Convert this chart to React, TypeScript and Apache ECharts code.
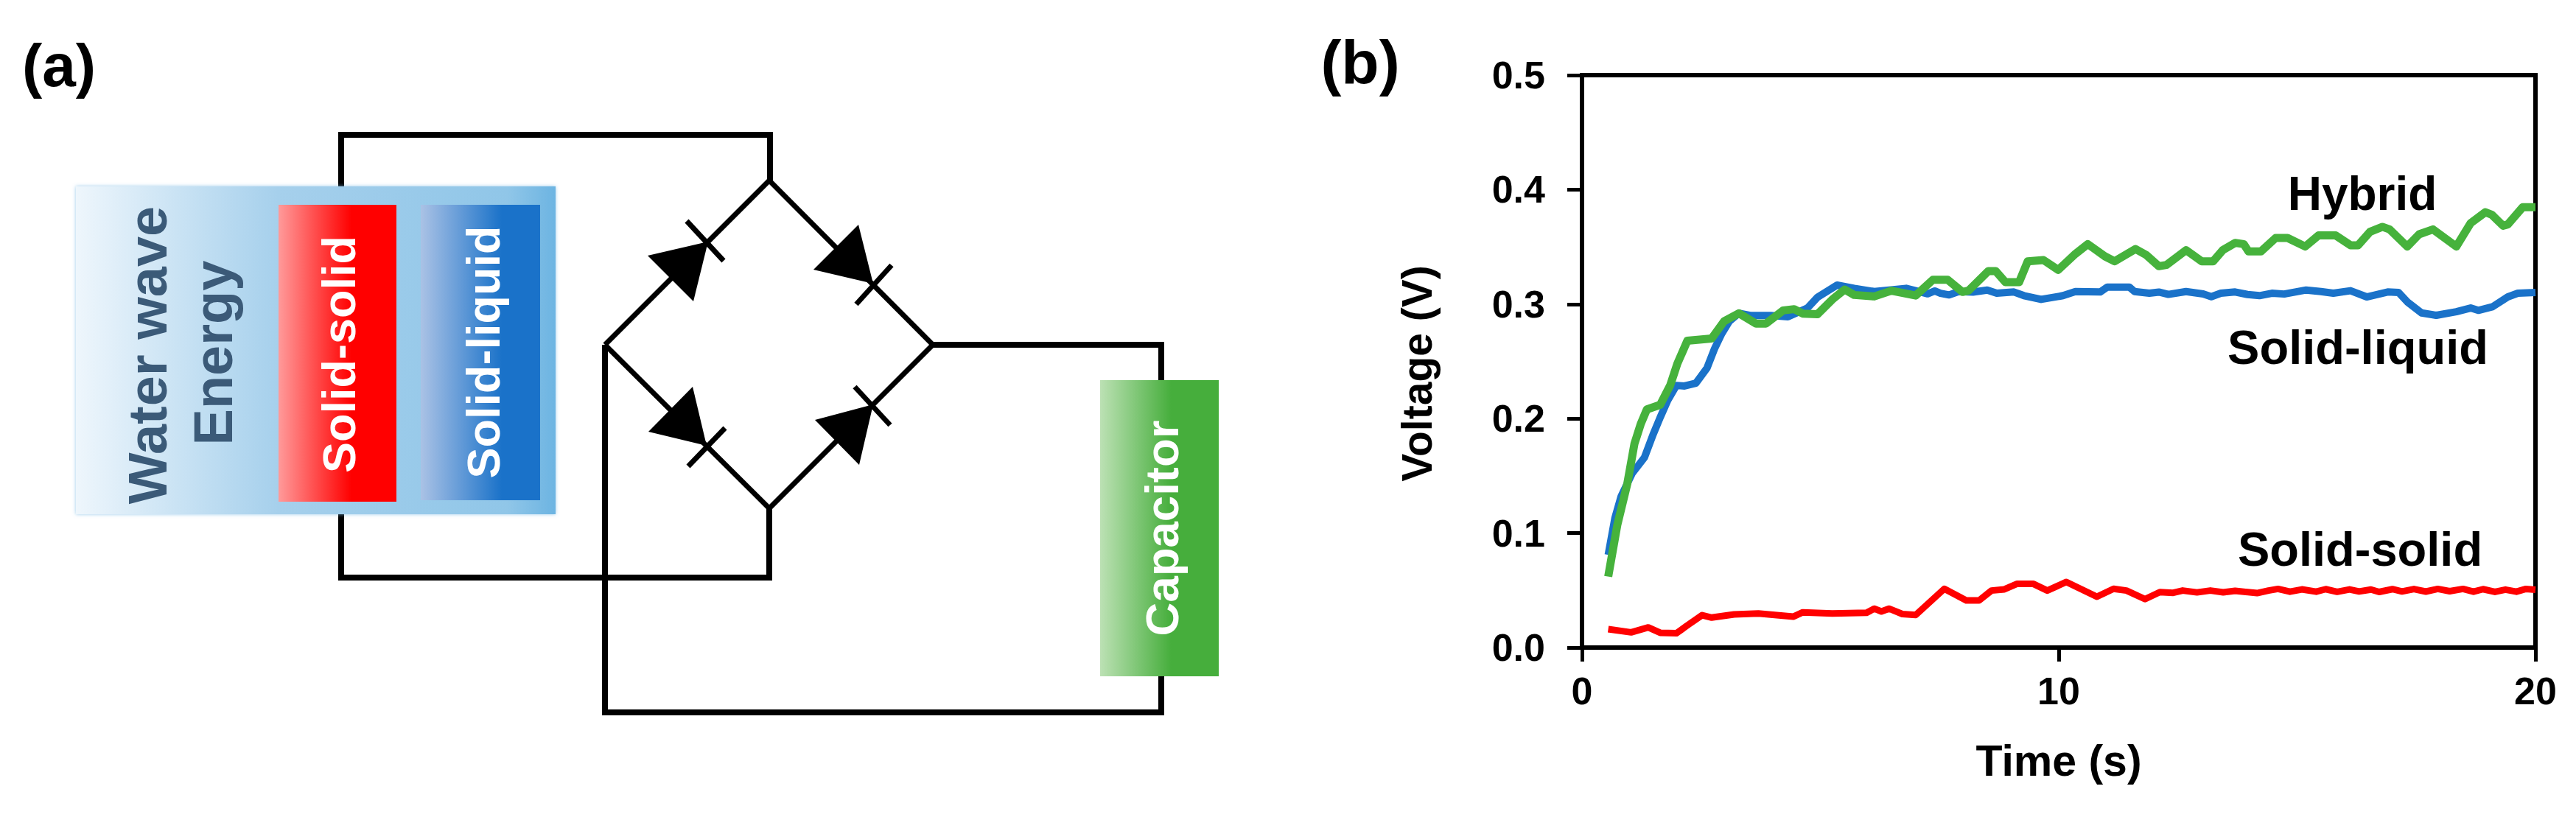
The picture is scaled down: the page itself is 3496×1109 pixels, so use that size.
import React, { useEffect, useRef } from "react";
import * as echarts from "echarts";

const WIDTH = 3496;
const HEIGHT = 1109;
const FONT = '"Liberation Sans", Arial, sans-serif';

const xTicks = [0, 10, 20];
const yTicks = [0, 0.1, 0.2, 0.3, 0.4, 0.5];

const hybrid: [number, number][] = [
  [0.55, 0.062], [0.74, 0.107], [0.95, 0.143], [1.1, 0.178], [1.23, 0.195], [1.36, 0.208], [1.64, 0.212],
  [1.85, 0.229], [2.0, 0.248], [2.21, 0.268], [2.72, 0.27], [2.98, 0.285], [3.29, 0.292], [3.65, 0.283],
  [3.86, 0.283], [4.22, 0.2945], [4.45, 0.2956], [4.63, 0.2917], [4.94, 0.2912], [5.25, 0.304], [5.51, 0.3127],
  [5.71, 0.308], [6.13, 0.3067], [6.49, 0.3117], [7.0, 0.3075], [7.36, 0.3213], [7.67, 0.3213], [7.98, 0.3106],
  [8.11, 0.3118], [8.52, 0.3288], [8.68, 0.3288], [8.88, 0.3192], [9.17, 0.3192], [9.35, 0.3374], [9.68, 0.3385],
  [9.99, 0.3299], [10.35, 0.3439], [10.61, 0.3524], [10.97, 0.3417], [11.17, 0.3374], [11.61, 0.3481],
  [11.84, 0.3428], [12.1, 0.3331], [12.26, 0.3342], [12.67, 0.3471], [13.0, 0.3374], [13.24, 0.3374],
  [13.44, 0.3471], [13.7, 0.3535], [13.88, 0.3524], [13.98, 0.346], [14.24, 0.346], [14.55, 0.3578], [14.8, 0.3578],
  [15.17, 0.3503], [15.45, 0.36], [15.81, 0.36], [16.12, 0.3514], [16.28, 0.3514], [16.53, 0.3632], [16.79, 0.3675],
  [16.94, 0.3653], [17.31, 0.3503], [17.56, 0.361], [17.85, 0.3653], [18.34, 0.3503], [18.64, 0.3707], [18.95, 0.3803],
  [19.08, 0.3782], [19.32, 0.3685], [19.42, 0.3696], [19.73, 0.3846], [20, 0.3846],
];

const solidLiquid: [number, number][] = [
  [0.55, 0.081], [0.69, 0.113], [0.82, 0.132], [1.05, 0.152], [1.31, 0.166], [1.49, 0.186], [1.64, 0.201], [1.8, 0.216],
  [1.98, 0.229], [2.15, 0.2285], [2.39, 0.231], [2.62, 0.244], [2.78, 0.261], [2.93, 0.274], [3.09, 0.285], [3.29, 0.292],
  [3.55, 0.29], [3.96, 0.29], [4.32, 0.289], [4.73, 0.2966], [4.94, 0.306], [5.35, 0.3166], [5.71, 0.3138], [6.13, 0.311],
  [6.8, 0.3138], [7.0, 0.3117], [7.25, 0.309], [7.4, 0.3115], [7.52, 0.3095], [7.7, 0.308], [7.9, 0.311], [8.2, 0.3105],
  [8.5, 0.3123], [8.7, 0.3095], [9.06, 0.3106], [9.27, 0.3074], [9.63, 0.3041], [10.09, 0.3074], [10.35, 0.311],
  [10.87, 0.3106], [11.02, 0.3149], [11.48, 0.3149], [11.59, 0.311], [11.9, 0.3095], [12.1, 0.3105], [12.3, 0.3085],
  [12.67, 0.311], [13.03, 0.3089], [13.2, 0.3065], [13.4, 0.3095], [13.7, 0.3106], [13.96, 0.3084], [14.21, 0.3074],
  [14.47, 0.3095], [14.73, 0.3088], [15.19, 0.3123], [15.5, 0.311], [15.76, 0.3095], [16.12, 0.3117], [16.46, 0.3063],
  [16.9, 0.3106], [17.13, 0.3101], [17.31, 0.302], [17.61, 0.2923], [17.92, 0.2902], [18.34, 0.2934], [18.64, 0.2966],
  [18.8, 0.2945], [19.1, 0.2977], [19.42, 0.3063], [19.63, 0.3095], [20, 0.3101],
];

const solidSolid: [number, number][] = [
  [0.55, 0.0161], [1.03, 0.0133], [1.39, 0.0176], [1.64, 0.0129], [1.98, 0.0125], [2.26, 0.0208], [2.52, 0.0283],
  [2.72, 0.0262], [3.19, 0.029], [3.7, 0.0298], [4.43, 0.027], [4.63, 0.0308], [5.25, 0.0298], [5.97, 0.0304], [6.13, 0.034],
  [6.28, 0.0315], [6.44, 0.034], [6.72, 0.0293], [7.0, 0.0285], [7.6, 0.0513], [8.06, 0.0412], [8.33, 0.0412], [8.59, 0.0498],
  [8.86, 0.0509], [9.12, 0.0556], [9.47, 0.0556], [9.76, 0.0498], [10.16, 0.0573], [10.8, 0.0444], [11.15, 0.0513],
  [11.42, 0.0498], [11.81, 0.0423], [12.12, 0.0484], [12.4, 0.0478], [12.6, 0.0498], [12.9, 0.0482], [13.18, 0.0498],
  [13.45, 0.0483], [13.7, 0.0496], [14.16, 0.0476], [14.4, 0.0498], [14.6, 0.0512], [14.85, 0.0488], [15.1, 0.0508],
  [15.4, 0.0488], [15.6, 0.051], [15.84, 0.0487], [16.1, 0.0508], [16.3, 0.049], [16.55, 0.0507], [16.72, 0.0486],
  [17.0, 0.051], [17.2, 0.049], [17.45, 0.0511], [17.7, 0.0489], [17.95, 0.0512], [18.2, 0.0492], [18.48, 0.0512],
  [18.7, 0.0488], [18.9, 0.051], [19.15, 0.0486], [19.37, 0.0506], [19.6, 0.0488], [19.8, 0.0512], [20, 0.0505],
];

function hGrad(stops: [number, string][]) {
  return new echarts.graphic.LinearGradient(0, 0, 1, 0, stops.map(([offset, color]) => ({ offset, color })));
}

function text(label: string, cx: number, baseline: number, size: number, fill: string, rot = false) {
  const off = size * 0.35;
  return {
    type: "text",
    x: rot ? baseline - off : cx,
    y: rot ? cx : baseline - off,
    rotation: rot ? Math.PI / 2 : 0,
    z: 20,
    style: { text: label, fill, font: `bold ${size}px ${FONT}`, align: "center", verticalAlign: "middle" },
  };
}

function wire(points: number[][], lineWidth = 8) {
  return {
    type: "polyline",
    z: 5,
    shape: { points },
    style: { stroke: "#000", lineWidth, fill: "none", lineJoin: "miter" },
  };
}

function diode(tri: number[][], bar: number[][]) {
  return [
    { type: "polygon", z: 6, shape: { points: tri }, style: { fill: "#000" } },
    wire(bar, 7),
  ];
}

function block(x: number, y: number, width: number, height: number, stops: [number, string][]) {
  return { type: "rect", z: 10, shape: { x, y, width, height }, style: { fill: hGrad(stops) } };
}

function diagram() {
  const WATER = "#3b5a78";
  return [
    wire([[463, 254], [463, 183], [1045, 183], [1045, 245]]),
    wire([[463, 696], [463, 784], [1044, 784], [1044, 690]]),
    wire([[821, 468], [1044, 245], [1266, 468], [1044, 690], [821, 468]], 7),
    wire([[821, 468], [821, 967], [1576, 967], [1576, 900]]),
    wire([[1266, 468], [1576, 468], [1576, 530]]),
    ...diode([[961, 328], [879, 347], [941, 409]], [[932, 300], [982, 354]]),
    ...diode([[1185, 385], [1165, 305], [1104, 366]], [[1210, 360], [1162, 413]]),
    ...diode([[959, 605], [940, 525], [880, 586]], [[984, 581], [934, 633]]),
    ...diode([[1185, 549], [1106, 570], [1166, 631]], [[1160, 525], [1208, 577]]),
    {
      type: "rect",
      z: 8,
      shape: { x: 103, y: 253, width: 651, height: 445 },
      style: {
        fill: hGrad([[0, "#eef6fc"], [0.42, "#a6d0ec"], [0.9, "#90c6e8"], [1, "#6cb4e2"]]),
        shadowBlur: 5,
        shadowColor: "rgba(130,190,230,0.8)",
      },
    },
    block(378, 278, 160, 403, [[0, "#ff9a9a"], [0.62, "#ff0000"], [1, "#ff0000"]]),
    block(571, 278, 162, 401, [[0, "#aac2e5"], [0.68, "#1a72c9"], [1, "#1a72c9"]]),
    block(1493, 516, 161, 402, [[0, "#bce1b4"], [0.6, "#46ae3c"], [1, "#46ae3c"]]),
    text("Water wave", 482, 226, 74, WATER, true),
    text("Energy", 479, 315, 74, WATER, true),
    text("Solid-solid", 481, 482, 63, "#fff", true),
    text("Solid-liquid", 478, 678, 63, "#fff", true),
    text("Capacitor", 717, 1599, 63.5, "#fff", true),
    text("(a)", 80, 117, 82, "#000"),
    text("(b)", 1846, 114, 84, "#000"),
    text("Hybrid", 3206, 285, 64, "#000"),
    text("Solid-liquid", 3200, 494, 65, "#000"),
    text("Solid-solid", 3203, 768, 65, "#000"),
    text("Voltage (V)", 507, 1943, 57, "#000", true),
  ];
}

export default function App() {
  const ref = useRef<HTMLDivElement>(null);
  useEffect(() => {
    document.body.style.margin = "0";
    const chart = echarts.init(ref.current!, undefined, { renderer: "svg" });
    const axisLabel = { color: "#000", fontFamily: FONT, fontWeight: "bold" as const, fontSize: 52 };
    const axisLine = { show: true, onZero: false, lineStyle: { color: "#000", width: 6 } };
    const line = (name: string, data: [number, number][], color: string, width: number) => ({
      type: "line" as const,
      name,
      data,
      showSymbol: false,
      smooth: false,
      lineStyle: { color, width, join: "round" as const },
      z: 3,
    });
    chart.setOption({
      animation: false,
      backgroundColor: "#fff",
      grid: { left: 2147, top: 102, width: 1294, height: 777, show: true, borderColor: "#000", borderWidth: 6, backgroundColor: "transparent" },
      xAxis: {
        type: "value",
        min: xTicks[0],
        max: xTicks[xTicks.length - 1],
        interval: xTicks[1] - xTicks[0],
        splitLine: { show: false },
        axisLine,
        axisTick: { show: true, length: 19, lineStyle: { color: "#000", width: 5 } },
        axisLabel: { ...axisLabel, margin: 33, formatter: (v: number) => String(v) },
        name: "Time (s)",
        nameLocation: "middle",
        nameGap: 124,
        nameTextStyle: { color: "#000", fontFamily: FONT, fontWeight: "bold", fontSize: 59 },
      },
      yAxis: {
        type: "value",
        min: yTicks[0],
        max: yTicks[yTicks.length - 1],
        interval: 0.1,
        splitLine: { show: false },
        axisLine,
        axisTick: { show: true, length: 20, lineStyle: { color: "#000", width: 5 } },
        axisLabel: { ...axisLabel, margin: 50, formatter: (v: number) => v.toFixed(1) },
      },
      series: [
        line("Solid-solid", solidSolid, "#ff0000", 9),
        line("Solid-liquid", solidLiquid, "#1a72c9", 10),
        line("Hybrid", hybrid, "#46b23c", 11),
      ],
      graphic: diagram(),
    });
    return () => chart.dispose();
  }, []);
  return <div ref={ref} style={{ position: "fixed", left: 0, top: 0, width: WIDTH, height: HEIGHT }} />;
}
